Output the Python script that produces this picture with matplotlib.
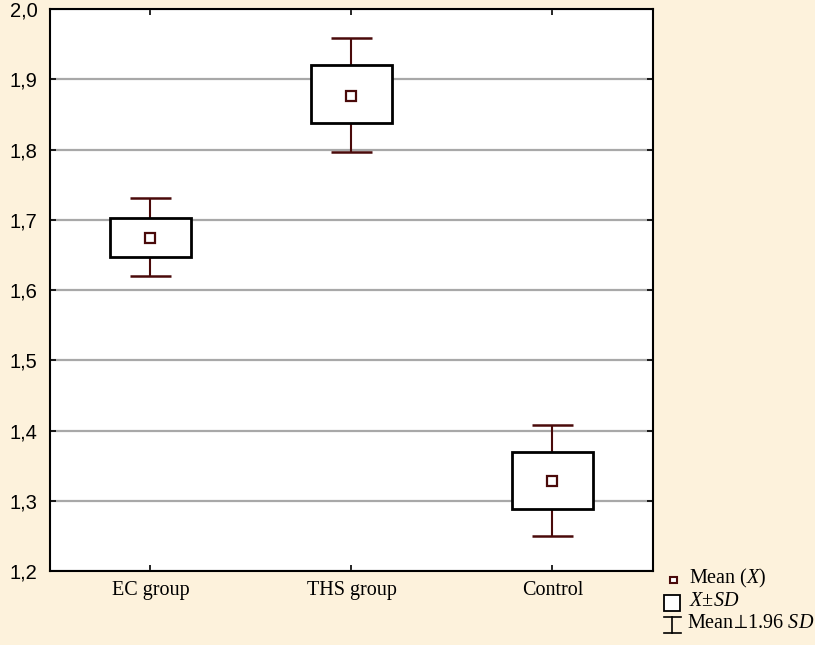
import numpy as np
import matplotlib.pyplot as plt
from matplotlib.patches import Rectangle

# dados
grupos    = ["EC group", "THS group", "Control"]
media     = [1.674, 1.876, 1.328]
caixa_inf = [1.647, 1.838, 1.288]
caixa_sup = [1.702, 1.920, 1.369]
bigode_inf = [1.620, 1.796, 1.250]
bigode_sup = [1.731, 1.959, 1.408]
yticks = [1.2, 1.3, 1.4, 1.5, 1.6, 1.7, 1.8, 1.9, 2.0]
ytick_labels = ["1,2", "1,3", "1,4", "1,5", "1,6", "1,7", "1,8", "1,9", "2,0"]

fundo = "#fdf2dc"
vinho = "#4a0a0a"

plt.rcParams["mathtext.fontset"] = "custom"
plt.rcParams["mathtext.rm"] = "Liberation Serif"
plt.rcParams["mathtext.it"] = "Liberation Serif:italic"
plt.rcParams["mathtext.fallback"] = "stix"

fig = plt.figure(figsize=(8.15, 6.45), dpi=100, facecolor=fundo)
ax = fig.add_axes([50/815, 74/645, 603/815, 562/645])
ax.set_facecolor("white")

x = np.arange(len(grupos))
for i in range(len(grupos)):
	ax.vlines(x[i], bigode_inf[i], caixa_inf[i], color=vinho, lw=1.5, zorder=3)
	ax.vlines(x[i], caixa_sup[i], bigode_sup[i], color=vinho, lw=1.5, zorder=3)
	ax.hlines([bigode_inf[i], bigode_sup[i]], x[i]-0.1, x[i]+0.1, color=vinho, lw=1.8, zorder=3)
	ax.add_patch(Rectangle((x[i]-0.2, caixa_inf[i]), 0.4, caixa_sup[i]-caixa_inf[i],
		facecolor="white", edgecolor="black", lw=2, zorder=4))
ax.plot(x, media, ls="none", marker="s", ms=7, mfc="white", mec=vinho, mew=1.6, zorder=5)

ax.set_xlim(-0.5, 2.5)
ax.set_ylim(1.2, 2.0)
ax.set_yticks(yticks)
ax.set_yticklabels(ytick_labels, family="Liberation Sans", fontsize=14.5)
ax.set_xticks(x)
ax.set_xticklabels(grupos, family="Liberation Serif", fontsize=14.5)
ax.yaxis.grid(True, color="#a8a8a8", lw=1.6)
ax.set_axisbelow(True)
ax.tick_params(direction="in", top=True, right=True, length=4, width=1.2)
ax.tick_params(axis="y", pad=9)
ax.tick_params(axis="x", pad=7)
for s in ax.spines.values():
	s.set_linewidth(1.5)

# legenda desenhada a mao, em pixels
lg = fig.add_axes([0, 0, 1, 1], facecolor="none")
lg.set_xlim(0, 815)
lg.set_ylim(645, 0)
lg.axis("off")
lg.add_patch(Rectangle((669.5, 576.5), 7, 6, facecolor="white", edgecolor=vinho, lw=1.5))
lg.add_patch(Rectangle((663.5, 594.5), 16, 16, facecolor="white", edgecolor="black", lw=1.3))
lg.plot([672, 672], [617, 633], color="black", lw=1.2)
lg.plot([664, 681], [617, 617], color="black", lw=1.2)
lg.plot([664, 681], [633, 633], color="black", lw=1.2)

fam = "Liberation Serif"
lg.text(689, 578, "Mean ($X$)", family=fam, fontsize=14.5, va="center")
lg.text(689, 601, "$X$±$SD$", family=fam, fontsize=14.5, va="center")
lg.text(687, 624, "Mean$\\!\\perp\\!$1.96 $SD$", family=fam, fontsize=14.5, va="center")

fig.savefig("out.png", dpi=100, facecolor=fundo)
